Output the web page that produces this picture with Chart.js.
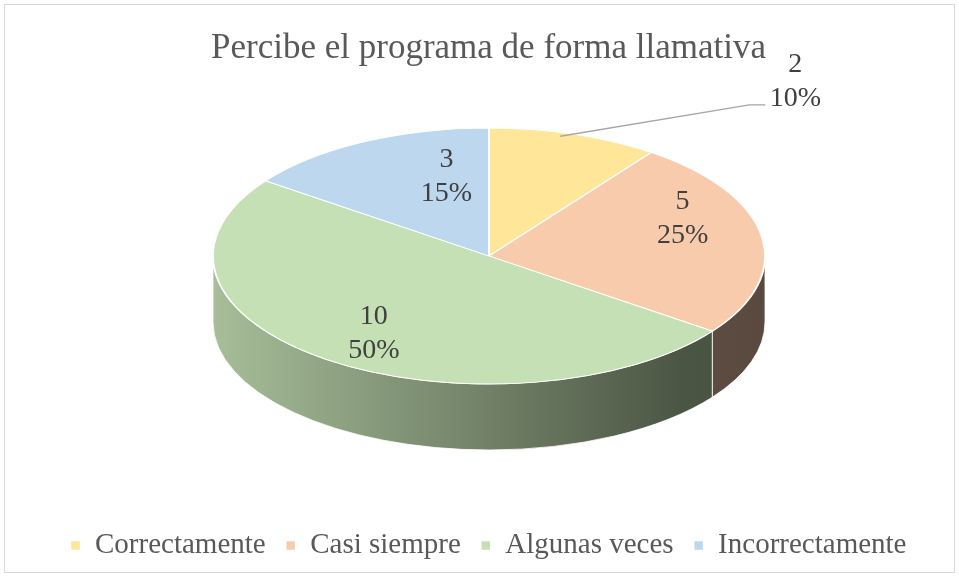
<!DOCTYPE html>
<html>
<head>
<meta charset="utf-8">
<script src="https://cdn.jsdelivr.net/npm/chart.js@4/dist/chart.umd.min.js"></script>
<style>
  html, body { margin: 0; padding: 0; background: #fff; }
  #wrap { width: 959px; height: 577px; position: relative; }
</style>
</head>
<body>
<div id="wrap"><canvas id="pieChart" width="959" height="577"></canvas></div>
<script>
"use strict";

// datos del gráfico
const categorias = ['Correctamente', 'Casi siempre', 'Algunas veces', 'Incorrectamente'];
const valores = [2, 5, 10, 3];
const colores = ['#FFE699', '#F8CBAD', '#C5E0B4', '#BDD7EE'];
const titulo = 'Percibe el programa de forma llamativa';

const serif = '"Liberation Serif", "Times New Roman", serif';

// oscurece un color hex por un factor
function oscurecer(hex, f) {
    const n = parseInt(hex.slice(1), 16);
    const r = Math.round(((n >> 16) & 255) * f);
    const g = Math.round(((n >> 8) & 255) * f);
    const b = Math.round((n & 255) * f);
    return 'rgb(' + r + ',' + g + ',' + b + ')';
}

// marco gris alrededor del gráfico
const marco = {
    id: 'marco',
    beforeDraw(chart) {
        const ctx = chart.ctx;
        ctx.save();
        ctx.strokeStyle = '#d9d9d9';
        ctx.lineWidth = 1;
        ctx.strokeRect(4.5, 4.5, chart.width - 9, chart.height - 9);
        ctx.restore();
    }
};

// torta "3D": aplasta la torta y dibuja el borde lateral
const torta3d = {
    id: 'torta3d',
    beforeDatasetsDraw(chart, args, opts) {
        const meta = chart.getDatasetMeta(0);
        const ref = meta.data[0];
        const ctx = chart.ctx;
        const { cx, cy, rx, ry, depth } = opts;

        // paredes laterales (solo la mitad frontal)
        meta.data.forEach((arc, i) => {
            const a0 = Math.max(arc.startAngle, 0);
            const a1 = Math.min(arc.endAngle, Math.PI);
            if (a1 <= a0) return;
            const grad = ctx.createLinearGradient(cx - rx, 0, cx + rx, 0);
            grad.addColorStop(0, oscurecer(colores[i], 0.85));
            grad.addColorStop(0.85, oscurecer(colores[i], 0.38));
            grad.addColorStop(1, oscurecer(colores[i], 0.36));
            ctx.save();
            ctx.beginPath();
            ctx.ellipse(cx, cy, rx, ry, 0, a0, a1);
            ctx.ellipse(cx, cy + depth, rx, ry, 0, a1, a0, true);
            ctx.closePath();
            ctx.fillStyle = grad;
            ctx.fill();
            ctx.strokeStyle = 'rgba(255,255,255,0.8)';
            ctx.lineWidth = 1;
            ctx.stroke();
            ctx.restore();
        });

        // transformación de la cara superior
        ctx.save();
        ctx.translate(cx, cy);
        ctx.scale(rx / ref.outerRadius, ry / ref.outerRadius);
        ctx.translate(-ref.x, -ref.y);
    },
    afterDatasetsDraw(chart, args, opts) {
        const ctx = chart.ctx;
        ctx.restore();

        const meta = chart.getDatasetMeta(0);
        const { cx, cy, rx, ry } = opts;
        const total = valores.reduce((a, b) => a + b, 0);

        ctx.save();
        ctx.font = '28px ' + serif;
        ctx.fillStyle = '#404040';
        ctx.textAlign = 'center';
        ctx.textBaseline = 'middle';
        meta.data.forEach((arc, i) => {
            const mid = (arc.startAngle + arc.endAngle) / 2;
            const v = valores[i];
            const pct = Math.round(v / total * 100) + '%';
            let tx, ty;
            if (v / total < 0.12) {
                // etiqueta fuera con línea guía
                const ex = cx + rx * Math.cos(mid);
                const ey = cy + ry * Math.sin(mid);
                tx = cx + rx * 1.11;
                ty = cy - ry * 1.36;
                ctx.save();
                ctx.strokeStyle = '#a6a6a6';
                ctx.lineWidth = 1.3;
                ctx.beginPath();
                ctx.moveTo(ex - 14, ey + 2);
                ctx.lineTo(tx - 46, ty + 23);
                ctx.lineTo(tx - 30, ty + 23);
                ctx.stroke();
                ctx.restore();
            } else {
                const [fx, fy] = opts.labelPos[i];
                tx = cx + rx * fx * Math.cos(mid);
                ty = cy + ry * fy * Math.sin(mid);
            }
            ctx.fillText(String(v), tx, ty - 17);
            ctx.fillText(pct, tx, ty + 17);
        });
        ctx.restore();
    }
};

const pieChartEl = document.getElementById('pieChart');

new Chart(pieChartEl, {
    type: 'pie',
    data: {
        labels: categorias,
        datasets: [{
            data: valores,
            backgroundColor: colores,
            borderColor: '#ffffff',
            borderWidth: 1.5,
            clip: false
        }]
    },
    options: {
        responsive: false,
        animation: false,
        events: [],
        layout: { padding: { top: 20, bottom: 7, left: 28, right: 10 } },
        plugins: {
            title: {
                display: true,
                text: titulo,
                color: '#595959',
                font: { family: serif, size: 35, weight: 'normal' },
                padding: { top: 8, bottom: 10 }
            },
            legend: {
                position: 'bottom',
                labels: {
                    color: '#595959',
                    font: { family: serif, size: 29 },
                    boxWidth: 10,
                    boxHeight: 10,
                    padding: 20
                }
            },
            tooltip: { enabled: false },
            torta3d: {
                cx: 489, cy: 256, rx: 276, ry: 128, depth: 66,
                labelPos: [[1, 1], [0.71, 1.85], [0.71, 0.75], [0.34, 0.7]]
            }
        }
    },
    plugins: [marco, torta3d]
});
</script>
</body>
</html>
